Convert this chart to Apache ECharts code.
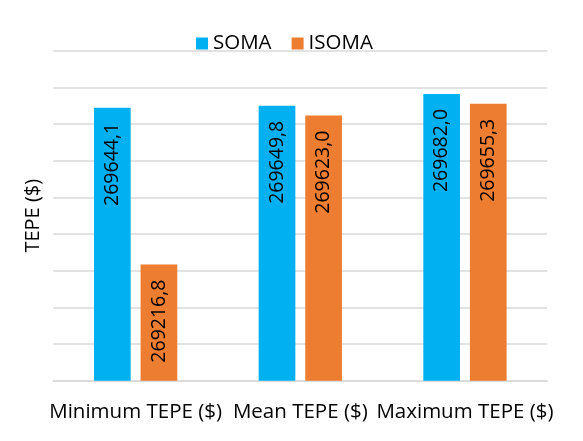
<!DOCTYPE html>
<html>
<head>
<meta charset="utf-8">
<script src="https://cdn.jsdelivr.net/npm/echarts@6/dist/echarts.min.js"></script>
<style>
html, body { margin: 0; padding: 0; background: #fff; }
#chart { width: 583px; height: 441px; }
</style>
</head>
<body>
<div id="chart"></div>
<script>
var categories = ['Minimum TEPE ($)', 'Mean TEPE ($)', 'Maximum TEPE ($)'];
var somaValues = [269644.1, 269649.8, 269682.0];
var isomaValues = [269216.8, 269623.0, 269655.3];

var fontFam = '"Open Sans", "Noto Sans", sans-serif';

// label inside the bar, reading bottom to top, decimal comma
var barLabel = {
	show: true,
	position: 'insideTop',
	rotate: 90,
	align: 'right',
	verticalAlign: 'middle',
	distance: 15,
	color: '#000',
	fontFamily: fontFam,
	fontSize: 19.5,
	formatter: function (p) {
		return p.value.toFixed(1).replace('.', ',');
	}
};

var myChart = echarts.init(document.getElementById('chart'));
var option = {
	animation: false,
	legend: {
		top: 28,
		left: 191,
		itemWidth: 12,
		itemHeight: 12,
		itemGap: 20,
		icon: 'rect',
		textStyle: { fontFamily: fontFam, fontSize: 20.5, color: '#000' },
		data: ['SOMA', 'ISOMA']
	},
	grid: { left: 53.3, right: 35.7, top: 50.7, bottom: 60.3 },
	xAxis: {
		type: 'category',
		data: categories,
		axisLine: { lineStyle: { color: '#D9D9D9', width: 1.5 } },
		axisTick: { show: false },
		axisLabel: {
			interval: 0,
			hideOverlap: false,
			margin: 21,
			color: '#000',
			fontFamily: fontFam,
			fontSize: 20.5
		}
	},
	yAxis: {
		type: 'value',
		min: 268900,
		max: 269800,
		interval: 100,
		name: 'TEPE ($)',
		nameLocation: 'middle',
		nameGap: 10,
		nameTextStyle: { color: '#000', fontFamily: fontFam, fontSize: 20 },
		axisLabel: { show: false },
		axisLine: { show: false },
		axisTick: { show: false },
		splitLine: { lineStyle: { color: '#D9D9D9', width: 1.5 } }
	},
	series: [
		{
			name: 'SOMA',
			type: 'bar',
			data: somaValues,
			barWidth: 36.7,
			barGap: '27%',
			itemStyle: { color: '#00B0F0' },
			label: barLabel
		},
		{
			name: 'ISOMA',
			type: 'bar',
			data: isomaValues,
			barWidth: 36.7,
			itemStyle: { color: '#ED7D31' },
			label: barLabel
		}
	]
};
myChart.setOption(option);
</script>
</body>
</html>
